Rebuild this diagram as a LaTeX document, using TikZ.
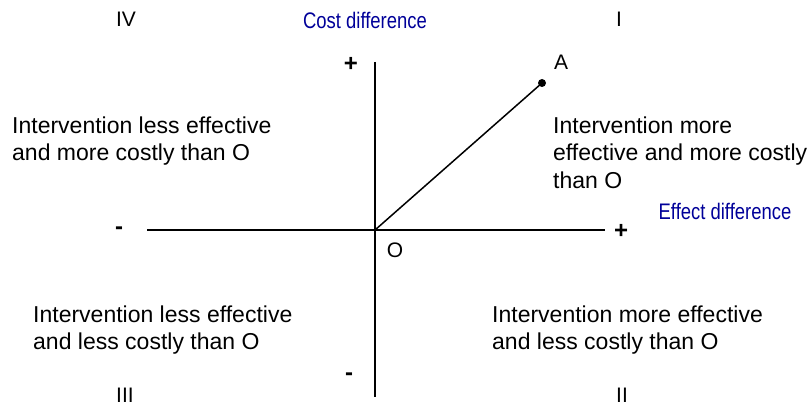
\documentclass[tikz,border=0pt]{standalone}
\usepackage{fontspec}
\setmainfont{Liberation Sans}
\newfontfamily\narrowfont[FakeStretch=0.82]{Liberation Sans}
\usepackage{xcolor}
\usepackage{tikz}
\usetikzlibrary{arrows.meta,positioning}
\definecolor{axisblue}{RGB}{0,0,153}

\begin{document}
\begin{tikzpicture}[
    x=1pt, y=-1pt,
    quad/.style={
        align=left, anchor=north west, inner sep=0pt,
        font=\fontsize{23}{27.5}\selectfont,
    },
    roman/.style={inner sep=0pt, font=\fontsize{21}{25}\selectfont},
    sign/.style={inner sep=0pt, font=\fontsize{24}{28}\selectfont\bfseries},
    axlabel/.style={inner sep=0pt, text=axisblue, font=\narrowfont\fontsize{22.5}{26}\selectfont},
    axisline/.style={line width=1.5pt},
]
\useasboundingbox (0,0) rectangle (810,406);

% Axes
\coordinate (O) at (375,230);
\coordinate (xl) at (147,230);
\coordinate (xr) at (605,230);
\coordinate (yt) at (375,62);
\coordinate (yb) at (375,397);
\coordinate (A) at (542,83);

\draw[axisline] (xl) -- (xr);
\draw[axisline] (yt) -- (yb);
\draw[axisline] (O) -- (A);
\fill (A) circle (4pt);

\node[roman] (lblO) at (395,250) {O};
\node[roman] (lblA) at (561,62) {A};

% Signs
\node[sign] (ytop) at (351,64) {+};
\node[sign] (ybot) at (349,377) {-};
\node[sign] (xleft) at (119,231) {-};
\node[sign] (xright) at (621,231) {+};

% Axis labels
\node[axlabel] (cost) at (365,20) {Cost difference};
\node[axlabel] (effect) at (725,211) {Effect difference};

% Quadrants
\node[roman] (rI) at (619,19) {I};
\node[roman] (rII) at (622,395) {II};
\node[roman] (rIII) at (125,395) {III};
\node[roman] (rIV) at (126,19) {IV};

\node[quad] (qI) at (553,116.5) {Intervention more\\effective and more costly\\than O};
\node[quad] (qIV) at (12,116.5) {Intervention less effective\\and more costly than O};
\node[quad] (qIII) at (33,305.5) {Intervention less effective\\and less costly than O};
\node[quad] (qII) at (492,305.5) {Intervention more effective\\and less costly than O};

\end{tikzpicture}
\end{document}
